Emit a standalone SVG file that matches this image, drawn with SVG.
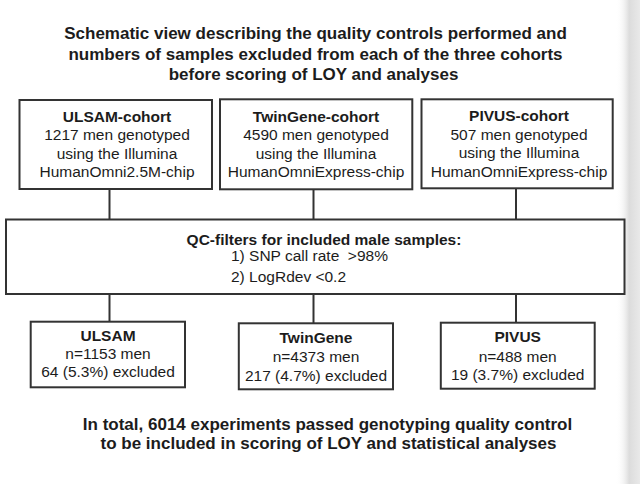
<svg xmlns="http://www.w3.org/2000/svg" width="640" height="484" viewBox="0 0 640 484">
<style>
  text { font-family: "Liberation Sans", Arial, sans-serif; fill: #1c1c1c; text-anchor: middle; }
  .h { font-size: 17px; font-weight: bold; }
  .b { font-size: 15.5px; font-weight: bold; }
  .r { font-size: 15.5px; }
  .box { fill: #ffffff; stroke: #333333; stroke-width: 2; }
  .conn line { stroke: #333333; stroke-width: 2; }
</style>
<defs>
  <linearGradient id="edge" x1="0" y1="0" x2="1" y2="0">
    <stop offset="0" stop-color="#ffffff" stop-opacity="0"/>
    <stop offset="0.55" stop-color="#dcdcdc"/>
    <stop offset="1" stop-color="#e9e9e9"/>
  </linearGradient>
</defs>
<rect x="0" y="0" width="640" height="484" fill="#ffffff"/>
<rect x="616" y="0" width="24" height="484" fill="url(#edge)"/>

<g id="title">
  <text class="h" x="315.5" y="39">Schematic view describing the quality controls performed and</text>
  <text class="h" x="315.5" y="59.5">numbers of samples excluded from each of the three cohorts</text>
  <text class="h" x="313.5" y="80">before scoring of LOY and analyses</text>
</g>

<g class="conn" id="connectors">
  <line x1="109.5" y1="189" x2="109.5" y2="219.5"/>
  <line x1="313.5" y1="189" x2="313.5" y2="219.5"/>
  <line x1="516" y1="188.3" x2="516" y2="219.5"/>
  <line x1="109.5" y1="294" x2="109.5" y2="321.7"/>
  <line x1="313.5" y1="294" x2="313.5" y2="323.3"/>
  <line x1="516" y1="294" x2="516" y2="322.7"/>
</g>

<g id="ulsam-cohort">
  <rect class="box" x="19.5" y="100" width="192.5" height="89"/>
  <text class="b" x="117" y="121.5">ULSAM-cohort</text>
  <text class="r" x="117" y="140">1217 men genotyped</text>
  <text class="r" x="117" y="158.5">using the Illumina</text>
  <text class="r" x="117" y="177">HumanOmni2.5M-chip</text>
</g>

<g id="twingene-cohort">
  <rect class="box" x="220" y="99.3" width="192.3" height="90"/>
  <text class="b" x="316" y="121.5">TwinGene-cohort</text>
  <text class="r" x="316" y="140">4590 men genotyped</text>
  <text class="r" x="316" y="158.5">using the Illumina</text>
  <text class="r" x="316" y="177">HumanOmniExpress-chip</text>
</g>

<g id="pivus-cohort">
  <rect class="box" x="421.5" y="99.3" width="191.2" height="89"/>
  <text class="b" x="519" y="121">PIVUS-cohort</text>
  <text class="r" x="519" y="139.5">507 men genotyped</text>
  <text class="r" x="519" y="158">using the Illumina</text>
  <text class="r" x="519" y="177">HumanOmniExpress-chip</text>
</g>

<g id="qc-filters">
  <rect class="box" x="6" y="219.5" width="618.5" height="74.5"/>
  <text class="b" x="324" y="245">QC-filters for included male samples:</text>
  <text class="r" x="231" y="260.5" style="text-anchor:start; white-space:pre">1) SNP call rate  &gt;98%</text>
  <text class="r" x="231" y="282" style="text-anchor:start">2) LogRdev &lt;0.2</text>
</g>

<g id="ulsam">
  <rect class="box" x="30.7" y="321.7" width="154.3" height="65.6"/>
  <text class="b" x="108" y="340.7">ULSAM</text>
  <text class="r" x="108" y="358.5">n=1153 men</text>
  <text class="r" x="108" y="377">64 (5.3%) excluded</text>
</g>

<g id="twingene">
  <rect class="box" x="238.8" y="323.3" width="154.2" height="66"/>
  <text class="b" x="316" y="343">TwinGene</text>
  <text class="r" x="316" y="362">n=4373 men</text>
  <text class="r" x="316" y="380.5">217 (4.7%) excluded</text>
</g>

<g id="pivus">
  <rect class="box" x="440.8" y="322.7" width="153.9" height="66"/>
  <text class="b" x="517.7" y="342.3">PIVUS</text>
  <text class="r" x="517.7" y="361.5">n=488 men</text>
  <text class="r" x="517.7" y="380">19 (3.7%) excluded</text>
</g>

<g id="footer">
  <text class="h" x="327.5" y="430">In total, 6014 experiments passed genotyping quality control</text>
  <text class="h" x="328.5" y="449">to be included in scoring of LOY and statistical analyses</text>
</g>
</svg>
